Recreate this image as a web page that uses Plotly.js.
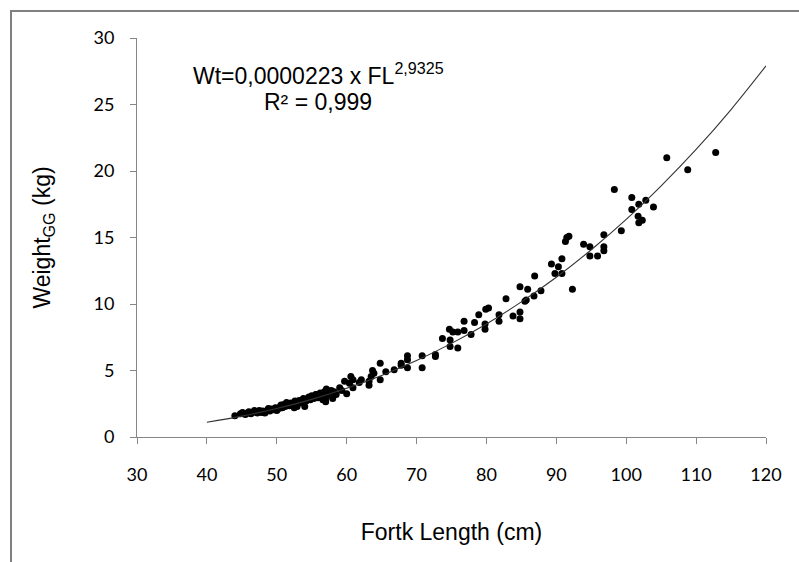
<!DOCTYPE html>
<html>
<head>
<meta charset="utf-8">
<script src="https://cdn.plot.ly/plotly-3.0.1.min.js"></script>
<style>
html,body{margin:0;padding:0;background:#fff;}
#wrap{position:relative;width:799px;height:562px;overflow:hidden;}
#chart{position:absolute;left:0;top:0;width:799px;height:562px;}
#frameTop{position:absolute;left:10px;top:10px;width:800px;height:2px;background:#808080;z-index:10;}
#frameLeft{position:absolute;left:10px;top:10px;width:2px;height:560px;background:#808080;z-index:10;}
</style>
</head>
<body>
<div id="wrap"><div id="chart"></div><div id="frameTop"></div><div id="frameLeft"></div></div>
<script>
// Observed fish: fork length (cm) and weight (kg)
const forkLength = [
  112.8,108.8,105.8,98.3,100.8,101.8,102.8,103.9,100.8,101.7,102.3,101.8,99.3,96.8,93.9,94.8,96.8,96.8,94.8,95.9,
  91.8,91.5,91.3,90.8,89.3,90.3,89.8,90.8,92.3,87.8,
  86.9,84.8,85.9,82.8,85.7,85.5,86.8,80.3,79.9,78.9,81.8,76.8,78.3,79.8,81.8,84.8,83.8,84.8,79.8,74.7,
  75.2,75.9,76.8,77.8,73.7,74.8,74.8,75.9,72.7,72.7,
  70.8,70.8,68.7,68.7,67.8,67.8,68.7,66.8,65.6,64.8,63.7,63.9,63.5,64.8,63.2,63.2,62.1,61.8,60.9,60.6,
  60.4,59.7,60.9,60.0,59.0,58.2,57.1,57.1,56.6,58.0,
  44.0,44.8,45.1,45.5,45.8,46.0,46.3,46.6,47.0,47.2,47.5,47.8,48.0,48.3,48.6,49.0,49.2,49.5,49.8,50.0,
  50.3,50.5,50.8,51.0,51.2,51.5,51.8,52.0,52.3,52.5,52.8,53.0,53.2,53.5,53.8,54.0,54.2,54.5,54.8,55.0,
  55.3,55.6,55.9,56.2,56.5,56.8,57.0,57.4,57.8,58.5,59.3,52.9,55.6,
  46.8,48.8,50.6,52.6,54.6,56.0,53.6,51.4
];
const weightGG = [
  21.4,20.1,21.0,18.6,18.0,17.5,17.8,17.3,17.1,16.6,16.3,16.1,15.5,15.2,14.5,14.3,14.3,14.0,13.6,13.6,
  15.1,15.0,14.7,13.4,13.0,12.8,12.3,12.3,11.1,11.0,
  12.1,11.3,11.1,10.4,10.3,10.2,10.6,9.7,9.6,9.2,9.2,8.7,8.6,8.5,8.7,9.4,9.1,8.9,8.1,8.1,
  7.9,7.9,8.0,7.7,7.4,7.3,6.8,6.7,6.2,6.05,
  6.1,5.2,6.1,5.8,5.55,5.4,5.2,5.05,4.9,5.55,5.0,4.8,4.55,4.3,4.2,3.9,4.3,4.1,4.3,4.55,
  4.05,4.2,3.7,3.25,3.7,3.4,3.6,3.0,2.8,2.9,
  1.6,1.75,1.85,1.7,1.8,1.9,1.75,1.85,1.9,1.8,2.0,1.85,1.95,1.8,2.0,1.95,2.1,2.05,2.2,2.0,
  2.15,2.3,2.2,2.45,2.3,2.5,2.35,2.55,2.4,2.2,2.6,2.5,2.75,2.6,2.9,2.3,2.7,2.95,2.8,3.1,
  2.9,3.2,2.95,3.3,3.1,3.4,2.65,3.2,3.5,3.2,3.5,2.3,3.2,
  2.0,2.15,2.4,2.7,3.0,3.05,2.75,2.6
];

// Power trend line as drawn in the chart
const trendLength = [40,45,50,55,60,65,70,75,80,85,90,95,100,105,110,115,120];
const trendWeight = [1.11,1.57,2.14,2.83,3.66,4.63,5.75,7.04,8.50,10.16,12.01,14.08,16.36,18.88,21.62,24.62,27.90];

const xTicks = [30,40,50,60,70,80,90,100,110,120];
const yTicks = [0,5,10,15,20,25,30];

const equationText = 'Wt=0,0000223 x FL<sup>2,9325</sup>';
const r2Text = 'R² = 0,999';

const tickFont = {family: 'Lato, "Open Sans", sans-serif', size: 18, color: '#000'};
const textFont = {family: '"Liberation Sans", Arial, sans-serif', size: 23, color: '#000'};

const traces = [
  {
    x: forkLength, y: weightGG, type: 'scatter', mode: 'markers',
    marker: {color: '#000', size: 7}, hoverinfo: 'x+y', showlegend: false
  },
  {
    x: trendLength, y: trendWeight, type: 'scatter', mode: 'lines',
    line: {color: '#333', width: 1.1, shape: 'spline'}, hoverinfo: 'skip', showlegend: false
  }
];

const layout = {
  width: 799, height: 562,
  margin: {l: 137, r: 33, t: 38, b: 125},
  paper_bgcolor: '#fff', plot_bgcolor: '#fff',
  showlegend: false,
  xaxis: {
    range: [30, 120], tickvals: xTicks, ticktext: xTicks.map(String),
    showgrid: false, zeroline: false, showline: true, linecolor: '#868686', linewidth: 1,
    ticks: 'outside', ticklen: 6, tickcolor: '#868686', tickwidth: 1,
    tickfont: tickFont, ticklabelstandoff: 15,
    title: {text: 'Fortk Length (cm)', font: textFont, standoff: 40}
  },
  yaxis: {
    range: [0, 30], tickvals: yTicks, ticktext: yTicks.map(String),
    showgrid: false, zeroline: false, showline: true, linecolor: '#868686', linewidth: 1,
    ticks: 'outside', ticklen: 6, tickcolor: '#868686', tickwidth: 1,
    tickfont: tickFont, ticklabelstandoff: 12,
    title: {text: 'Weight<sub>GG</sub> (kg)', font: textFont, standoff: 36}
  },
  annotations: [
    {xref: 'paper', yref: 'paper', x: 0.288, y: 0.91, xanchor: 'center', yanchor: 'middle',
     text: equationText, showarrow: false, font: textFont},
    {xref: 'paper', yref: 'paper', x: 0.288, y: 0.84, xanchor: 'center', yanchor: 'middle',
     text: r2Text, showarrow: false, font: textFont}
  ]
};

Plotly.newPlot('chart', traces, layout, {displayModeBar: false, staticPlot: true});
</script>
</body>
</html>
